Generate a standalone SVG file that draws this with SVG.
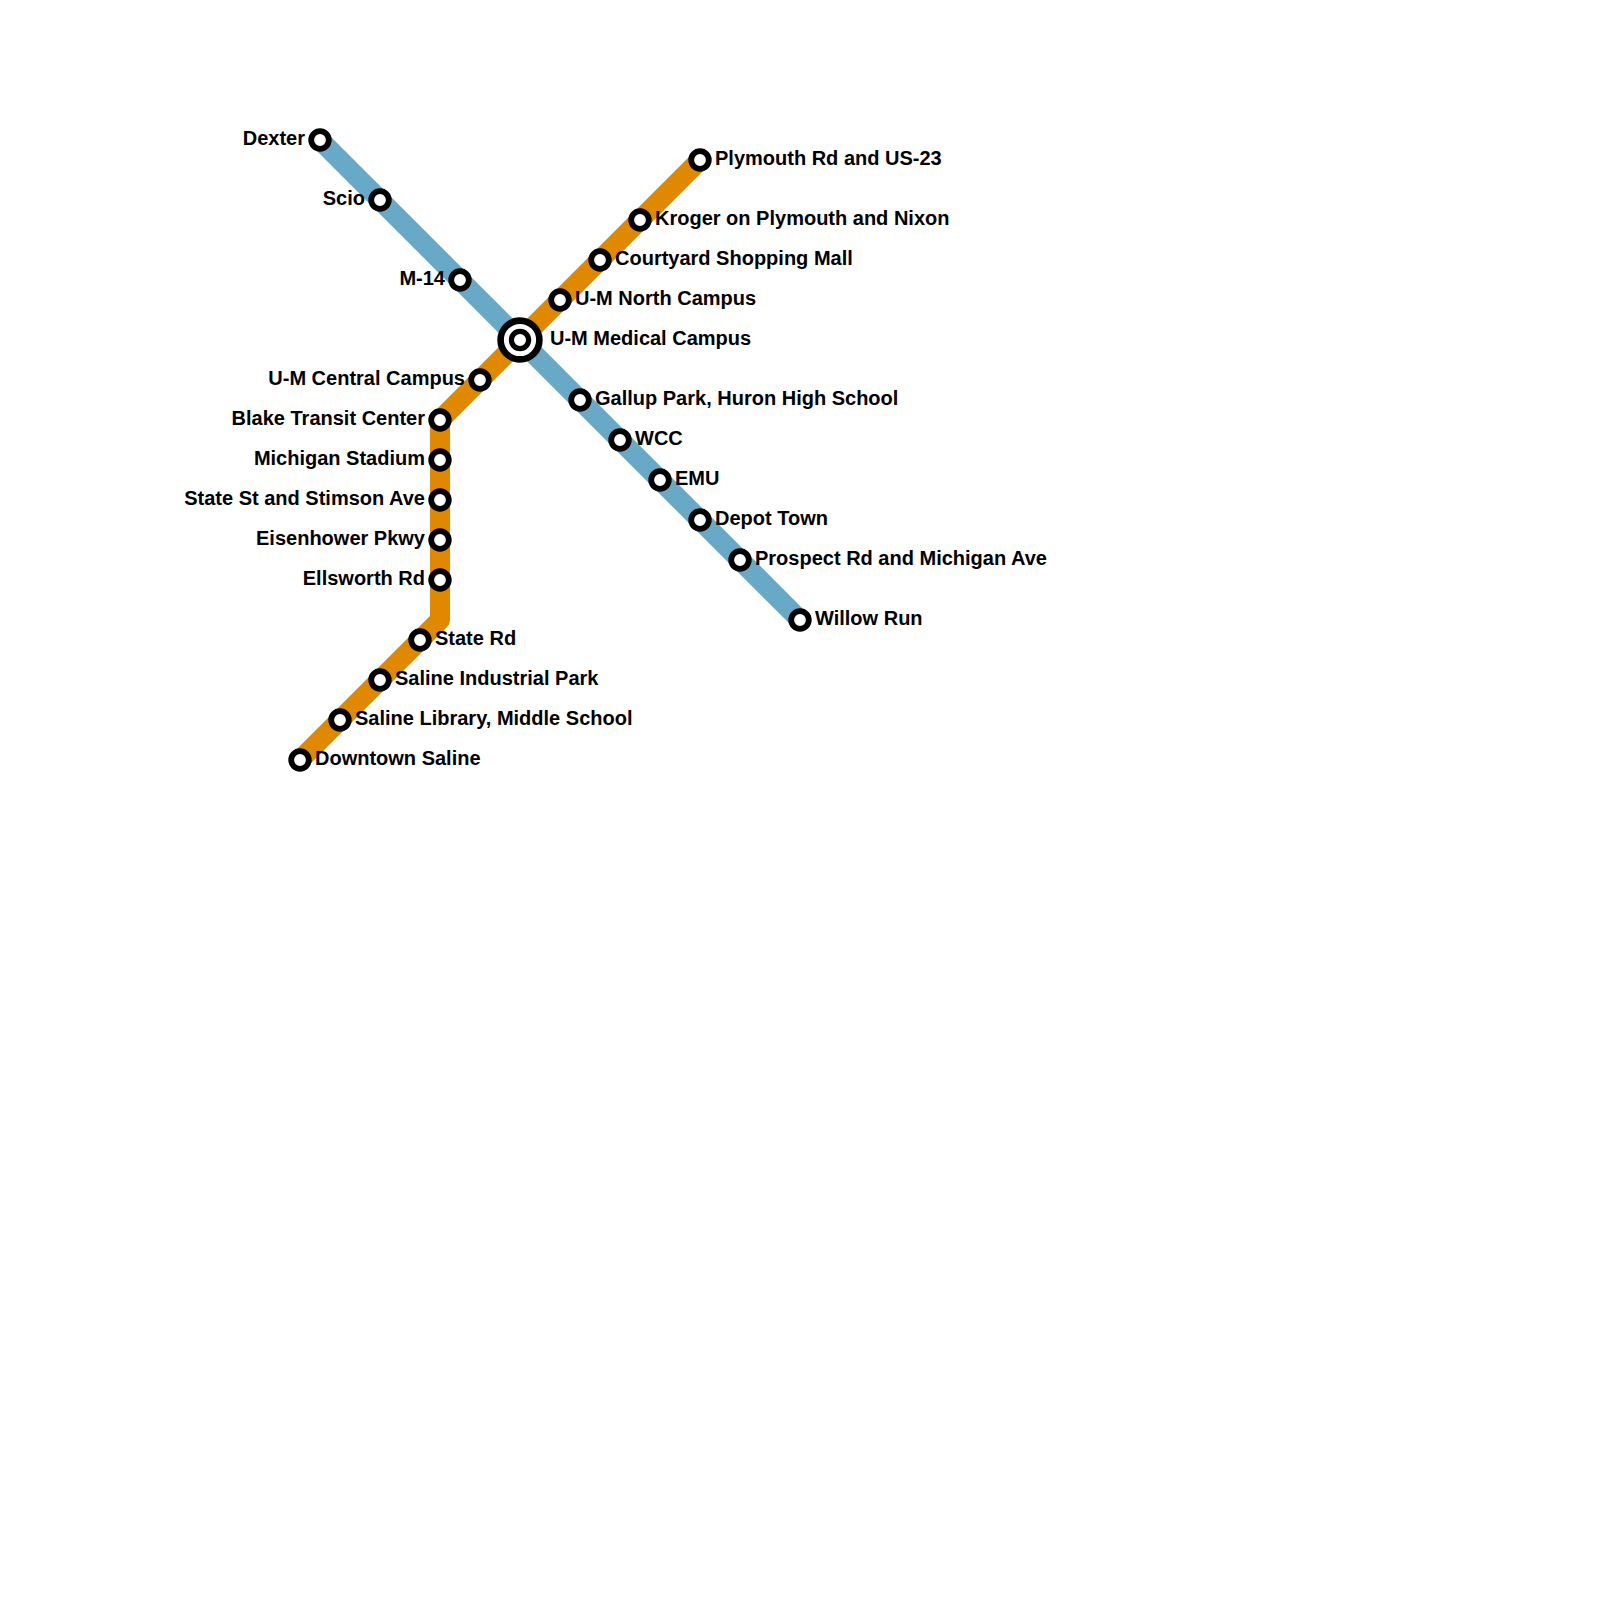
<svg xmlns="http://www.w3.org/2000/svg" width="1600" height="1600" viewBox="0 0 1600 1600">
<style>
.l{fill:none;stroke-width:20;stroke-linejoin:round}
.s{fill:#fff;stroke:#000;stroke-width:5.8}
.h{fill:#fff;stroke:#000;stroke-width:6.6}
.c{fill:#fff;stroke:#000;stroke-width:5.2}
text{font-family:"Liberation Sans",Arial,sans-serif;font-weight:700;font-size:20px;fill:#000}
.e{text-anchor:end}
</style>
<rect width="1600" height="1600" fill="#fff"/>
<g id="connectors">
<path id="line-blue" class="l" stroke="#67a9c6" d="M320 140L800 620"/>
<path id="line-orange" class="l" stroke="#e08800" d="M700 160L440 420V620L300 760"/>
</g>
<g id="dexter"><circle class="s" cx="320" cy="140" r="8.8"/><text class="e" x="305" y="145">Dexter</text></g>
<g id="scio"><circle class="s" cx="380" cy="200" r="8.8"/><text class="e" x="365" y="205">Scio</text></g>
<g id="m14"><circle class="s" cx="460" cy="280" r="8.8"/><text class="e" x="445" y="285">M-14</text></g>
<g id="medical"><circle class="h" cx="520" cy="340" r="19.4"/><circle class="c" cx="520" cy="340" r="8.6"/><text x="550" y="345">U-M Medical Campus</text></g>
<g id="gallup"><circle class="s" cx="580" cy="400" r="8.8"/><text x="595" y="405">Gallup Park, Huron High School</text></g>
<g id="wcc"><circle class="s" cx="620" cy="440" r="8.8"/><text x="635" y="445">WCC</text></g>
<g id="emu"><circle class="s" cx="660" cy="480" r="8.8"/><text x="675" y="485">EMU</text></g>
<g id="depot"><circle class="s" cx="700" cy="520" r="8.8"/><text x="715" y="525">Depot Town</text></g>
<g id="prospect"><circle class="s" cx="740" cy="560" r="8.8"/><text x="755" y="565">Prospect Rd and Michigan Ave</text></g>
<g id="willow"><circle class="s" cx="800" cy="620" r="8.8"/><text x="815" y="625">Willow Run</text></g>
<g id="plymouth"><circle class="s" cx="700" cy="160" r="8.8"/><text x="715" y="165">Plymouth Rd and US-23</text></g>
<g id="kroger"><circle class="s" cx="640" cy="220" r="8.8"/><text x="655" y="225">Kroger on Plymouth and Nixon</text></g>
<g id="courtyard"><circle class="s" cx="600" cy="260" r="8.8"/><text x="615" y="265">Courtyard Shopping Mall</text></g>
<g id="north"><circle class="s" cx="560" cy="300" r="8.8"/><text x="575" y="305">U-M North Campus</text></g>
<g id="central"><circle class="s" cx="480" cy="380" r="8.8"/><text class="e" x="465" y="385">U-M Central Campus</text></g>
<g id="blake"><circle class="s" cx="440" cy="420" r="8.8"/><text class="e" x="425" y="425">Blake Transit Center</text></g>
<g id="stadium"><circle class="s" cx="440" cy="460" r="8.8"/><text class="e" x="425" y="465">Michigan Stadium</text></g>
<g id="stimson"><circle class="s" cx="440" cy="500" r="8.8"/><text class="e" x="425" y="505">State St and Stimson Ave</text></g>
<g id="eisenhower"><circle class="s" cx="440" cy="540" r="8.8"/><text class="e" x="425" y="545">Eisenhower Pkwy</text></g>
<g id="ellsworth"><circle class="s" cx="440" cy="580" r="8.8"/><text class="e" x="425" y="585">Ellsworth Rd</text></g>
<g id="state-rd"><circle class="s" cx="420" cy="640" r="8.8"/><text x="435" y="645">State Rd</text></g>
<g id="industrial"><circle class="s" cx="380" cy="680" r="8.8"/><text x="395" y="685">Saline Industrial Park</text></g>
<g id="library"><circle class="s" cx="340" cy="720" r="8.8"/><text x="355" y="725">Saline Library, Middle School</text></g>
<g id="downtown"><circle class="s" cx="300" cy="760" r="8.8"/><text x="315" y="765">Downtown Saline</text></g>
</svg>
